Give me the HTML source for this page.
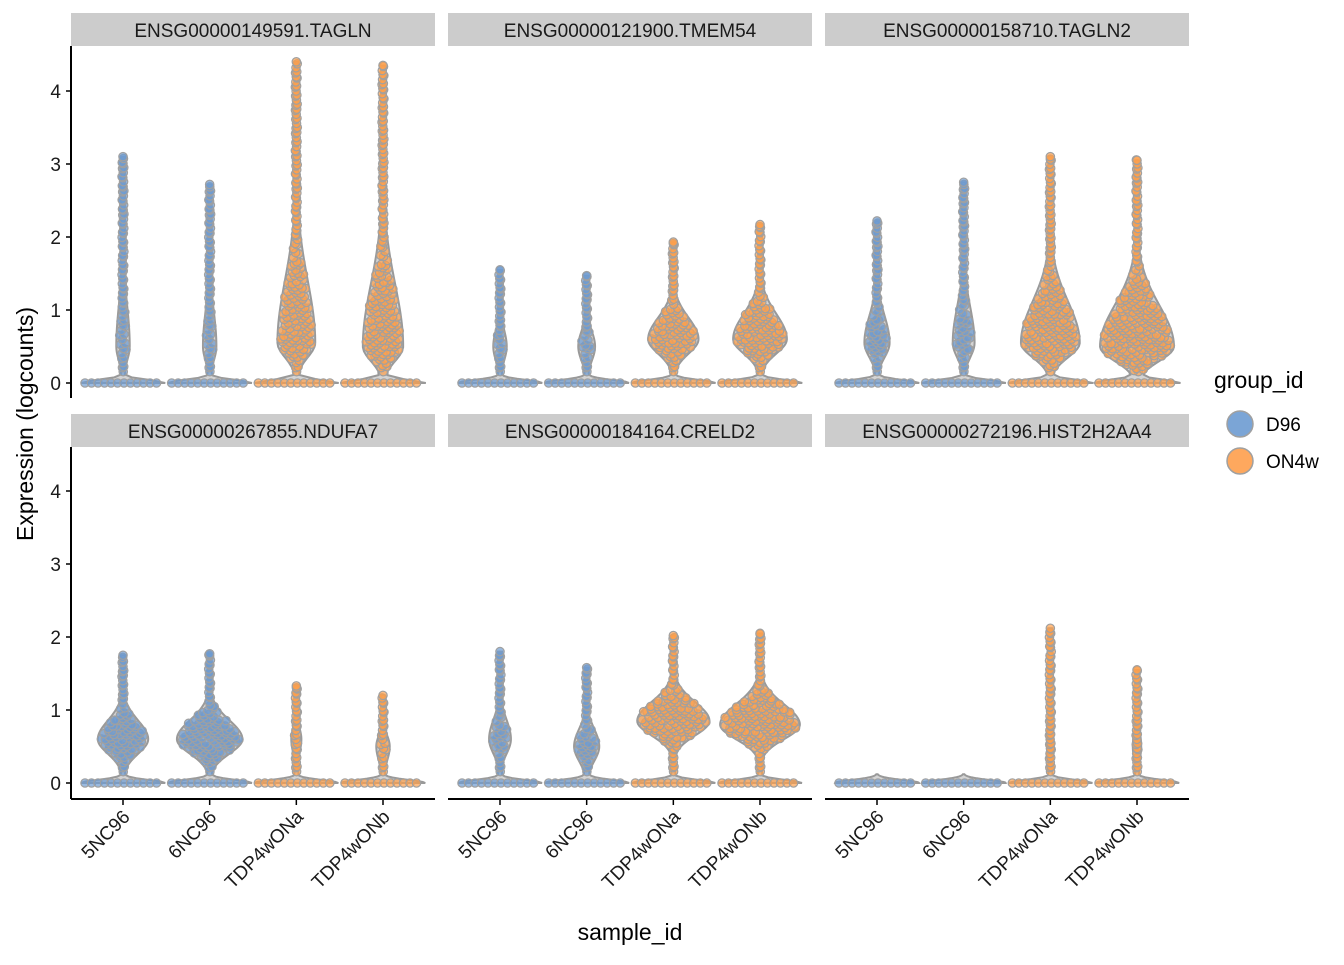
<!DOCTYPE html>
<html><head><meta charset="utf-8">
<style>
body{margin:0;background:#fff;}
svg text{font-family:"Liberation Sans",sans-serif;}
</style></head>
<body>
<svg id="chart" width="1344" height="960" xmlns="http://www.w3.org/2000/svg"></svg>
<script>
// ---- data ----
const genes = ["ENSG00000149591.TAGLN","ENSG00000121900.TMEM54","ENSG00000158710.TAGLN2","ENSG00000267855.NDUFA7","ENSG00000184164.CRELD2","ENSG00000272196.HIST2H2AA4"];
const samples = ["5NC96","6NC96","TDP4wONa","TDP4wONb"];
const sampleGroup = ["D96","D96","ON4w","ON4w"];
const yTicks = [0,1,2,3,4];
// per gene, per sample: max expression
const maxExpr = [
 [3.1,2.72,4.4,4.35],
 [1.55,1.47,1.93,2.17],
 [2.22,2.75,3.1,3.05],
 [1.75,1.77,1.33,1.2],
 [1.8,1.58,2.02,2.05],
 [0,0,2.12,1.55]];
// mode of non-zero expression
const modeExpr = [
 [0.5,0.5,0.55,0.5],
 [0.5,0.5,0.6,0.6],
 [0.55,0.55,0.55,0.5],
 [0.6,0.6,0.6,0.5],
 [0.6,0.5,0.85,0.8],
 [0.5,0.5,0.5,0.5]];
// relative density of non-zero bulge (0..1 of half width)
const bulgeDensity = [
 [0.16,0.16,0.45,0.48],
 [0.16,0.2,0.6,0.64],
 [0.3,0.26,0.7,0.88],
 [0.6,0.78,0.12,0.16],
 [0.26,0.3,0.86,0.95],
 [0,0,0.08,0.1]];
const groups = ["D96","ON4w"];
const groupColors = {"D96":"#6d9bd1","ON4w":"#fe9f4c"};

// ---- layout ----
const svg = document.getElementById('chart');
const NS = "http://www.w3.org/2000/svg";
const colX = [71,448,825], panelW = 364;
const rowTop = [13,414], stripH = 33;
const zeroY = [383,783], ppu = 73;
function mk(tag, attrs, parent){const e=document.createElementNS(NS,tag);for(const k in attrs)e.setAttribute(k,attrs[k]);(parent||svg).appendChild(e);return e;}
function xScale(col,i){return colX[col] + panelW*(0.6+i)/4.2;}
function yScale(row,v){return zeroY[row] - v*ppu;}
const maxHalf = 42;

function halfWidth(g,s,v){
  const mx = maxExpr[g][s], md = modeExpr[g][s], b = bulgeDensity[g][s];
  let w = Math.exp(-Math.pow(v/0.06,2));
  if (mx>0 && v<=mx+0.001){
    const sd = v<md ? 0.28 : Math.max((mx-md)/3.2,0.22);
    w += b*Math.exp(-Math.pow((v-md)/sd,2));
    w = Math.max(w, 0.05);
  }
  return w*maxHalf;
}

genes.forEach((gene,g)=>{
  const row = Math.floor(g/3), col = g%3;
  const px = colX[col];
  const strip = mk('g',{},svg);
  
  
  mk('rect',{x:px,y:rowTop[row],width:panelW,height:stripH,fill:'#cccccc'},strip);
  const t = mk('text',{x:px+panelW/2,y:rowTop[row]+24,'text-anchor':'middle','font-size':19,fill:'#1a1a1a'},strip);
  t.textContent = gene;

  const panel = mk('g',{},svg);
  
  
  samples.forEach((sm,s)=>{
    const cx = xScale(col,s);
    const mx = maxExpr[g][s];
    const top = Math.max(mx,0.12);
    const pts=[];
    const steps=80;
    for(let k=0;k<=steps;k++){const v=top*k/steps;pts.push([halfWidth(g,s,v),v]);}
    let d='M'+cx+','+yScale(row,0);
    pts.forEach(p=>d+='L'+(cx+p[0])+','+yScale(row,p[1]));
    for(let k=pts.length-1;k>=0;k--)d+='L'+(cx-pts[k][0])+','+yScale(row,pts[k][1]);
    d+='Z';
    const vio = mk('path',{d:d,fill:'#d4d4d4',stroke:'#999',"stroke-width":2},panel);
    
    
    const color = groupColors[sampleGroup[s]];
    const pg = mk('g',{fill:color,'fill-opacity':0.7,stroke:'#a0a0a0','stroke-width':1.2},panel);
    
    
    for(let x=-38;x<=38;x+=6.5){mk('circle',{cx:cx+x,cy:yScale(row,0),r:4.2},pg);}
    if(mx>0){
      let k=0;
      for(let v=0.16; v<=mx; v+=0.04){
        const w = halfWidth(g,s,v)-3;
        const n = Math.max(1,Math.round(w/3.5));
        for(let j=0;j<n;j++){
          k++;
          const f = ((k*0.618034)%1)*2-1;
          mk('circle',{cx:cx+f*Math.max(w,1),cy:yScale(row,v+((k*0.37)%1-0.5)*0.04),r:4.2},pg);
        }
      }
      mk('circle',{cx:cx,cy:yScale(row,mx),r:4.2},pg);
    }
  });
  if(col===0){
    const ax = mk('g',{},svg);
    
    
    mk('line',{x1:px,x2:px,y1:rowTop[row]+stripH,y2:row===0?398:799,stroke:'#000','stroke-width':2},ax);
    yTicks.forEach(v=>{
      const y=yScale(row,v);
      mk('line',{x1:px-5,x2:px,y1:y,y2:y,stroke:'#000','stroke-width':1.5},ax);
      const tt=mk('text',{x:px-10,y:y+7,'text-anchor':'end','font-size':19,fill:'#1a1a1a'},ax);tt.textContent=v;
    });
  }
  if(row===1){
    const ax = mk('g',{},svg);
    
    
    mk('line',{x1:px,x2:px+panelW,y1:799,y2:799,stroke:'#000','stroke-width':2},ax);
    samples.forEach((sm,s)=>{
      const x=xScale(col,s);
      mk('line',{x1:x,x2:x,y1:799,y2:805,stroke:'#000','stroke-width':1.5},ax);
      const tt=mk('text',{x:x+8,y:818,'text-anchor':'end','font-size':19,fill:'#1a1a1a',transform:'rotate(-45 '+(x+8)+' 818)'},ax);tt.textContent=sm;
    });
  }
});
</script>
<script>
(function(){
const svg=document.getElementById('chart');const NS="http://www.w3.org/2000/svg";
function mk(tag,a,p){const e=document.createElementNS(NS,tag);for(const k in a)e.setAttribute(k,a[k]);(p||svg).appendChild(e);return e;}
let t=mk('text',{x:630,y:940,'text-anchor':'middle','font-size':23,fill:'#000'});t.textContent='sample_id';

t=mk('text',{x:33,y:424,'text-anchor':'middle','font-size':23,fill:'#000',transform:'rotate(-90 33 424)'});t.textContent='Expression (logcounts)';

const lg=mk('g',{});
t=mk('text',{x:1214,y:388,'font-size':23,fill:'#000'},lg);t.textContent='group_id';
[['D96','#6d9bd1',424],['ON4w','#fe9f4c',461]].forEach(r=>{
  const e=mk('g',{},lg);
  mk('circle',{cx:1240,cy:r[2],r:13,fill:r[1],'fill-opacity':0.9,stroke:'#a0a0a0','stroke-width':1.5},e);
  const tt=mk('text',{x:1266,y:r[2]+7,'font-size':19,fill:'#000'},e);tt.textContent=r[0];
});
})();
</script>
</body></html>
